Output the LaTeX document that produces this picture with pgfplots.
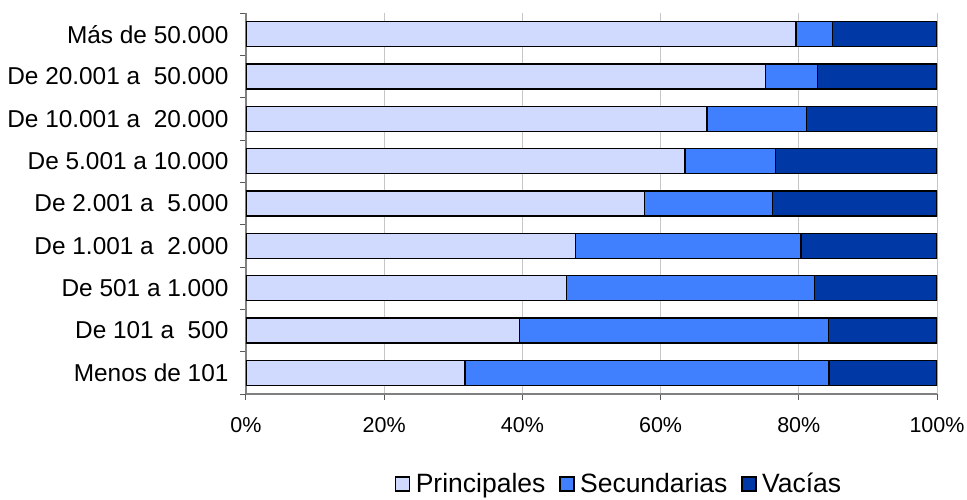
\documentclass[border=0pt]{standalone}
\usepackage{fontspec}
\setmainfont{Liberation Sans}
\usepackage{pgfplots}
\pgfplotsset{compat=1.18}

\definecolor{princ}{RGB}{208,218,254}
\definecolor{secu}{RGB}{64,128,255}
\definecolor{vac}{RGB}{0,56,165}

\begin{document}
\begin{tikzpicture}[x=1pt,y=1pt]
\useasboundingbox (-246,-105) rectangle (721,394);
\begin{axis}[
    at={(0,0)}, anchor=south west,
    scale only axis, width=691pt, height=381pt,
    xbar stacked, bar width=25pt,
    xmin=0, xmax=100, ymin=-0.5, ymax=8.5,
    xtick={0,20,40,60,80,100},
    xticklabels={0\%,20\%,40\%,60\%,80\%,100\%},
    ytick={-0.5,0.5,...,8.5},
    yticklabels={Menos de 101\ ,De 101 a\ \ 500,De 501 a 1.000,De 1.001 a\ \ 2.000,De 2.001 a\ \ 5.000,De 5.001 a 10.000,De 10.001 a\ \ 20.000,De 20.001 a\ \ 50.000,Más de 50.000,},
    y tick label as interval,
    axis x line*=bottom, axis y line*=left,
    axis line style={-, color=gray, line width=1.5pt},
    tick align=outside, major tick length=6pt,
    tick style={color=gray!70!black, line width=1pt},
    xmajorgrids, major grid style={color=gray!45, line width=0.8pt},
    xticklabel style={font=\fontsize{21.5}{25}\selectfont, yshift=-14pt},
    yticklabel style={font=\fontsize{24.4}{28}\selectfont, xshift=-8pt},
    legend style={at={(0.54,-0.236)}, anchor=center, draw=none,
        font=\fontsize{26.5}{30}\selectfont, inner sep=0pt,
        /tikz/every even column/.append style={column sep=12pt}},
    legend columns=-1,
    legend image code/.code={\draw[#1, line width=1.4pt] (0pt,-7pt) rectangle (14pt,7pt);
        \path[draw=none, fill=none] (18pt,0pt) circle (0pt);},
]
\addplot[fill=princ, draw=black, line width=1.5pt] coordinates {
    (31.7,0) (39.6,1) (46.4,2) (47.7,3) (57.7,4) (63.5,5) (66.7,6) (75.2,7) (79.6,8)};
\addplot[fill=secu, draw=black, line width=1.5pt] coordinates {
    (52.7,0) (44.7,1) (35.9,2) (32.6,3) (18.5,4) (13.1,5) (14.4,6) (7.5,7) (5.3,8)};
\addplot[fill=vac, draw=black, line width=1.5pt] coordinates {
    (15.6,0) (15.7,1) (17.7,2) (19.7,3) (23.8,4) (23.4,5) (18.9,6) (17.3,7) (15.1,8)};
\legend{Principales, Secundarias, Vacías}
\end{axis}
\end{tikzpicture}
\end{document}
